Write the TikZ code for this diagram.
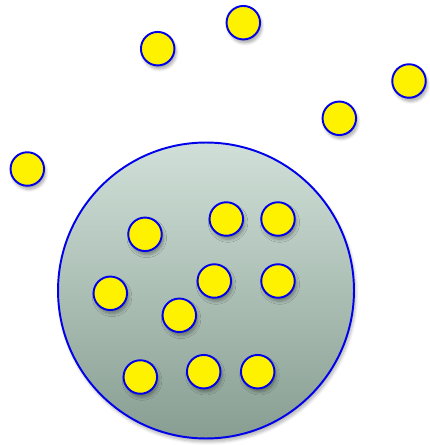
\documentclass[tikz,border=0pt]{standalone}
\usepackage{tikz}
\usetikzlibrary{shadows.blur}

\definecolor{celltop}{RGB}{208,224,216}
\definecolor{cellbottom}{RGB}{136,158,146}
\definecolor{ballblue}{RGB}{0,0,235}

\tikzset{
  cell/.style={circle, draw=ballblue, line width=1.1pt, minimum size=5.92cm,
    inner sep=0pt, top color=celltop, bottom color=cellbottom,
    blur shadow={shadow xshift=1pt, shadow yshift=-2pt, shadow blur steps=6, shadow opacity=30}},
  ball/.style={circle, draw=ballblue, line width=1.1pt, fill=yellow, minimum size=0.67cm,
    inner sep=0pt,
    blur shadow={shadow xshift=1pt, shadow yshift=-2pt, shadow blur steps=5, shadow opacity=35}}
}

\begin{document}
\begin{tikzpicture}[x=0.02cm, y=-0.02cm]
  \useasboundingbox (0,0) rectangle (429,445);
  % the big cell
  \node[cell] (cell) at (206,290.5) {};
  % balls outside
  \foreach \name/\x/\y in {o1/157.7/48.7, o2/243.3/22.7, o3/409/81, o4/339.3/118.3, o5/27.3/169}
    \node[ball] (\name) at (\x,\y) {};
  % balls inside
  \foreach \name/\x/\y in {i1/145/234.3, i2/226.3/219, i3/278/219, i4/110.3/293.3,
      i5/214.3/281, i6/278/281, i7/179.3/315.3, i8/140.3/377, i9/203.7/371.7, i10/257.7/371.7}
    \node[ball] (\name) at (\x,\y) {};
\end{tikzpicture}
\end{document}
